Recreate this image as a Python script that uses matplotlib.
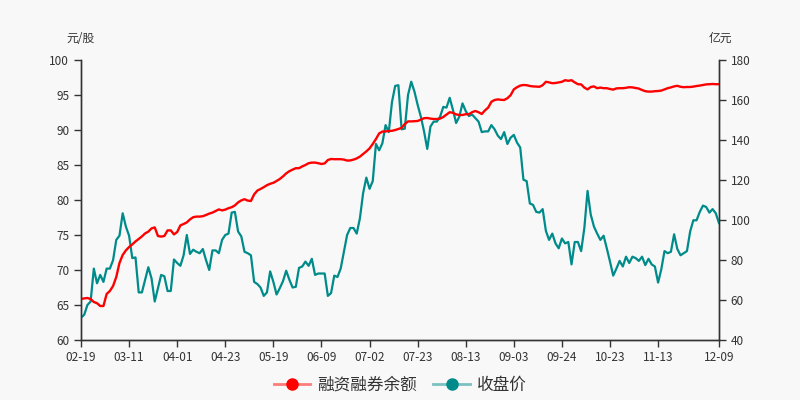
import matplotlib
matplotlib.use("Agg")
import matplotlib.pyplot as plt
from matplotlib.lines import Line2D
from matplotlib.legend_handler import HandlerTuple
import numpy as np

plt.rcParams['font.family'] = ['Noto Sans CJK SC', 'DejaVu Sans']

# x-axis tick labels (shown every 15 trading days, plus the last day)
tick_labels = ['02-19', '03-11', '04-01', '04-23', '05-19', '06-09', '07-02',
               '07-23', '08-13', '09-03', '09-24', '10-23', '11-13', '12-09']
tick_index = [0, 15, 30, 45, 60, 75, 90, 105, 120, 135, 150, 165, 180, 199]

# 融资融券余额 (亿元), right axis
balance = [
    60.5, 60.8, 61.0, 60.5, 59.0, 58.4, 57.0, 57.0, 63.0, 64.5,
    67.0, 71.5, 78.5, 82.5, 84.8, 86.5, 87.8, 89.3, 90.5, 91.8,
    93.3, 94.2, 95.8, 96.3, 92.0, 91.7, 92.0, 94.8, 94.8, 92.8,
    94.0, 97.3, 98.0, 98.8, 100.3, 101.4, 101.7, 101.7, 101.9, 102.5,
    103.2, 103.7, 104.5, 105.3, 104.8, 105.2, 105.9, 106.4, 107.3, 108.8,
    109.8, 110.4, 109.7, 109.5, 112.8, 114.7, 115.5, 116.4, 117.4, 118.1,
    118.6, 119.5, 120.5, 121.8, 123.3, 124.4, 125.2, 125.9, 125.9, 126.8,
    127.5, 128.4, 128.7, 128.7, 128.4, 128.0, 128.3, 130.0, 130.5, 130.4,
    130.4, 130.4, 130.2, 129.7, 129.8, 130.2, 130.8, 131.7, 133.0, 134.3,
    135.8, 138.0, 140.5, 143.3, 144.2, 144.3, 144.5, 144.6, 145.0, 145.5,
    146.1, 148.0, 149.3, 149.3, 149.4, 149.5, 150.2, 150.9, 151.0, 150.7,
    150.5, 150.5, 150.7, 151.5, 152.7, 153.9, 153.6, 152.8, 152.5, 152.5,
    152.9, 152.9, 153.9, 154.5, 153.9, 153.0, 154.8, 156.2, 159.1, 160.0,
    160.3, 160.1, 160.0, 160.9, 162.4, 165.3, 166.4, 167.2, 167.5, 167.4,
    167.0, 166.8, 166.7, 166.6, 167.4, 169.1, 168.8, 168.4, 168.5, 168.8,
    169.1, 169.9, 169.6, 169.9, 168.8, 167.9, 167.8, 166.2, 165.3, 166.5,
    166.8, 165.9, 166.2, 165.9, 165.9, 165.5, 165.2, 165.8, 165.9, 165.9,
    166.1, 166.4, 166.3, 166.0, 165.7, 165.0, 164.4, 164.2, 164.2, 164.4,
    164.5, 164.7, 165.3, 165.9, 166.3, 166.8, 167.1, 166.6, 166.4, 166.5,
    166.5, 166.7, 167.0, 167.2, 167.5, 167.8, 167.9, 168.0, 167.9, 167.9,
]

# 收盘价 (元/股), left axis
close = [
    63.2, 63.6, 65.0, 65.5, 70.2, 68.1, 69.3, 68.3, 70.2, 70.2,
    71.4, 74.3, 74.9, 78.1, 76.2, 74.9, 71.7, 71.8, 66.8, 66.8,
    68.6, 70.4, 68.8, 65.5, 67.4, 69.3, 69.1, 67.0, 67.0, 71.5,
    71.0, 70.6, 72.1, 75.0, 72.3, 72.9, 72.6, 72.4, 73.0, 71.4,
    70.0, 72.8, 72.8, 72.4, 74.3, 75.0, 75.2, 78.2, 78.3, 75.5,
    74.8, 72.6, 72.4, 72.1, 68.3, 68.0, 67.5, 66.3, 66.8, 69.8,
    68.3, 66.5, 67.4, 68.4, 69.9, 68.6, 67.5, 67.6, 70.3, 70.5,
    71.2, 70.6, 71.6, 69.3, 69.5, 69.5, 69.5, 66.3, 66.7, 69.2,
    69.0, 70.2, 72.6, 75.0, 76.0, 76.0, 75.2, 77.4, 81.0, 83.2,
    81.6, 82.7, 88.0, 87.1, 88.1, 90.7, 89.7, 94.0, 96.3, 96.4,
    90.1, 90.2, 95.0, 96.9, 95.5, 93.6, 91.9, 89.8, 87.3, 90.5,
    91.2, 91.2, 91.9, 93.3, 93.2, 94.6, 92.9, 91.0, 91.9, 93.8,
    92.7, 92.0, 92.2, 91.7, 91.2, 89.7, 89.8, 89.8, 90.7, 90.1,
    89.2, 88.7, 89.7, 88.0, 88.9, 89.3, 88.2, 87.5, 82.9, 82.7,
    79.5, 79.3, 78.3, 78.2, 78.7, 75.6, 74.3, 75.2, 73.8, 73.1,
    74.5, 73.8, 74.0, 70.8, 74.0, 74.0, 72.7, 76.0, 81.3, 77.9,
    76.2, 75.2, 74.3, 74.9, 73.1, 71.2, 69.2, 70.2, 71.3, 70.5,
    71.9, 71.0, 71.9, 71.7, 71.3, 71.9, 70.7, 71.6, 70.8, 70.5,
    68.2, 70.1, 72.7, 72.4, 72.6, 75.1, 73.0, 72.1, 72.4, 72.7,
    75.5, 77.1, 77.1, 78.3, 79.2, 79.0, 78.2, 78.7, 78.1, 76.7,
]

red = '#ff0000'
teal = '#008b8b'
text_color = '#333333'
bg = '#f8f8f8'

x = np.arange(len(close))

fig = plt.figure(figsize=(8, 4), dpi=100, facecolor=bg)
ax = fig.add_axes([0.10125, 0.15, 0.7975, 0.70], facecolor=bg)
ax2 = ax.twinx()

ax.plot(x, close, color=teal, lw=1.6, zorder=3)
ax2.plot(x, balance, color=red, lw=1.7)

ax.set_xlim(0, len(close) - 1)
ax.set_ylim(60, 100)
ax.set_yticks(np.arange(60, 101, 5))
ax2.set_ylim(40, 180)
ax2.set_yticks(np.arange(40, 181, 20))
ax.set_xticks(tick_index)
ax.set_xticklabels(tick_labels)

for a in (ax, ax2):
    a.spines['top'].set_visible(False)
    for s in ('left', 'right', 'bottom'):
        a.spines[s].set_color(text_color)
        a.spines[s].set_linewidth(1.0)
    a.tick_params(colors=text_color, labelcolor=text_color, labelsize=8.5,
                  length=5, width=1.0, direction='out')
ax.tick_params(axis='x', pad=3)

# axis unit titles, centred above each y axis
fig.text(0.10, 0.903, '元/股', ha='center', va='center', fontsize=8.5, color=text_color)
fig.text(0.90, 0.903, '亿元', ha='center', va='center', fontsize=8.5, color=text_color)

handles = [
    (Line2D([], [], color=red, lw=2, alpha=0.5), Line2D([], [], color=red, marker='o', ls='', ms=8)),
    (Line2D([], [], color=teal, lw=2, alpha=0.5), Line2D([], [], color=teal, marker='o', ls='', ms=8)),
]
fig.legend(handles, ['融资融券余额', '收盘价'], handler_map={tuple: HandlerTuple(ndivide=1)},
           loc='center', bbox_to_anchor=(0.5, 0.037), ncol=2, frameon=False,
           fontsize=12, handlelength=2.2, columnspacing=1.0, handletextpad=0.4,
           labelcolor=text_color)

fig.savefig('out.png', dpi=100, facecolor=bg)
